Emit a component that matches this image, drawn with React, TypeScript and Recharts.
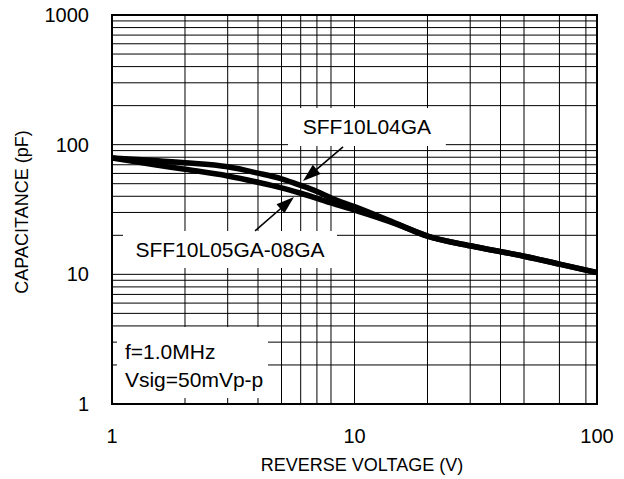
import React from 'react';
import { LineChart, Line, XAxis, YAxis, CartesianGrid, ReferenceArea, ReferenceLine } from 'recharts';

const voltage = [1, 1.5, 2, 3, 4, 5, 6, 7, 8, 10, 15, 20, 30, 50, 70, 100];
const capSFF10L04GA = [79, 75.5, 72.6, 67.5, 60.3, 54.5, 48.5, 43.5, 38.8, 33.3, 24.5, 19.7, 16.6, 13.8, 12.0, 10.3];
const capSFF10L05GA = [79, 70, 64.6, 57.4, 51.3, 46.5, 42.2, 38.6, 35.5, 31.3, 24.3, 19.7, 16.6, 13.8, 12.0, 10.3];
const xTicks = [1, 10, 100];
const yTicks = [1, 10, 100, 1000];
const xGrid = [2, 3, 4, 5, 6, 7, 8, 9, 10, 20, 30, 40, 50, 60, 70, 80, 90];
const yGrid = [2, 3, 4, 5, 6, 7, 8, 9, 10, 20, 30, 40, 50, 60, 70, 80, 90, 100, 200, 300, 400, 500, 600, 700, 800, 900];

const rows = voltage.map((v, i) => ({ v, a: capSFF10L04GA[i], b: capSFF10L05GA[i] }));

const FONT = '"Liberation Sans", Arial, Helvetica, sans-serif';

const Arrow = (p: any) => {
  const { x1, y1, x2, y2 } = p;
  const dx = x2 - x1, dy = y2 - y1;
  const len = Math.hypot(dx, dy) || 1;
  const ux = dx / len, uy = dy / len;
  const hl = 18, hw = 6;
  const bx = x2 - ux * hl, by = y2 - uy * hl;
  return (
    <g>
      <line x1={x1} y1={y1} x2={bx + ux * 2} y2={by + uy * 2} stroke="#000" strokeWidth={1.6} />
      <polygon points={`${x2},${y2} ${bx - uy * hw},${by + ux * hw} ${bx + uy * hw},${by - ux * hw}`} fill="#000" />
    </g>
  );
};

const centerLabel = (text: string) => (props: any) => {
  const vb = props.viewBox || {};
  return (
    <text x={vb.x + vb.width / 2} y={vb.y + vb.height / 2} dy="0.35em" textAnchor="middle"
      fontFamily={FONT} fontSize={21} fill="#000">{text}</text>
  );
};

const condLabel = (props: any) => {
  const vb = props.viewBox || {};
  return (
    <g fontFamily={FONT} fontSize={21} fill="#000">
      <text x={vb.x + 8} y={vb.y + 25} dy="0.35em">f=1.0MHz</text>
      <text x={vb.x + 8} y={vb.y + 53} dy="0.35em">Vsig=50mVp-p</text>
    </g>
  );
};

const XTick = (p: any) => (
  <text x={p.x} y={p.y + 32} dy="0.35em" textAnchor="middle" fontFamily={FONT} fontSize={20} fill="#000">
    {p.payload.value}
  </text>
);

const YTick = (p: any) => (
  <text x={p.x - 23} y={p.y} dy="0.35em" textAnchor="end" fontFamily={FONT} fontSize={20} fill="#000">
    {p.payload.value}
  </text>
);

export default function App() {
  return (
    <div style={{ position: 'absolute', left: 0, top: 0, width: 624, height: 479, background: '#fff' }}>
      <LineChart width={624} height={479} data={rows} margin={{ top: 15, right: 27, bottom: 0, left: 0 }}>
        <CartesianGrid stroke="#000" strokeWidth={1} horizontal={false} verticalValues={xGrid} />
        {yGrid.map((g) => (
          <ReferenceLine key={'h' + g} y={g} stroke="#000" strokeWidth={1} zIndex={-90} />
        ))}
        <XAxis dataKey="v" type="number" scale="log" domain={[1, 100]} ticks={xTicks} allowDataOverflow
          height={75} tickSize={0} tickMargin={0} axisLine={false} tickLine={false} tick={<XTick />}
          label={{
            content: (props: any) => (
              <text x={362} y={465} dy="0.35em" textAnchor="middle" fontFamily={FONT} fontSize={18} fill="#000">
                REVERSE VOLTAGE (V)
              </text>
            ),
          }} />
        <YAxis type="number" scale="log" domain={[1, 1000]} ticks={yTicks} allowDataOverflow
          width={112} tickSize={0} tickMargin={0} axisLine={false} tickLine={false} tick={<YTick />}
          label={{
            content: (props: any) => (
              <text x={22} y={212} dy="0.35em" textAnchor="middle" fontFamily={FONT} fontSize={18} fill="#000"
                transform="rotate(-90 22 212)">
                CAPACITANCE (pF)
              </text>
            ),
          }} />
        <ReferenceArea x1={5.32} x2={23.8} y1={97.5} y2={192} fill="#fff" fillOpacity={1} stroke="none"
          ifOverflow="visible" label={{ content: centerLabel('SFF10L04GA') }} />
        <ReferenceArea x1={1.11} x2={8.47} y1={11.2} y2={21.6} fill="#fff" fillOpacity={1} stroke="none"
          ifOverflow="visible" label={{ content: centerLabel('SFF10L05GA-08GA') }} />
        <ReferenceArea x1={1.048} x2={4.4} y1={1.11} y2={3.93} fill="#fff" fillOpacity={1} stroke="none"
          ifOverflow="visible" label={{ content: condLabel }} />
        <ReferenceArea x1={1} x2={100} y1={1} y2={1000} fill="none" fillOpacity={0} stroke="#000" strokeWidth={2}
          ifOverflow="visible" />
        <Line dataKey="a" type="monotone" stroke="#000" strokeWidth={5.5} dot={false} isAnimationActive={false} />
        <Line dataKey="b" type="monotone" stroke="#000" strokeWidth={5.5} dot={false} isAnimationActive={false} />
        <ReferenceLine segment={[{ x: 8.97, y: 96 }, { x: 6.13, y: 52.5 }]} ifOverflow="visible" shape={Arrow} />
        <ReferenceLine segment={[{ x: 3.89, y: 21.6 }, { x: 5.63, y: 39.5 }]} ifOverflow="visible" shape={Arrow} />
      </LineChart>
    </div>
  );
}
